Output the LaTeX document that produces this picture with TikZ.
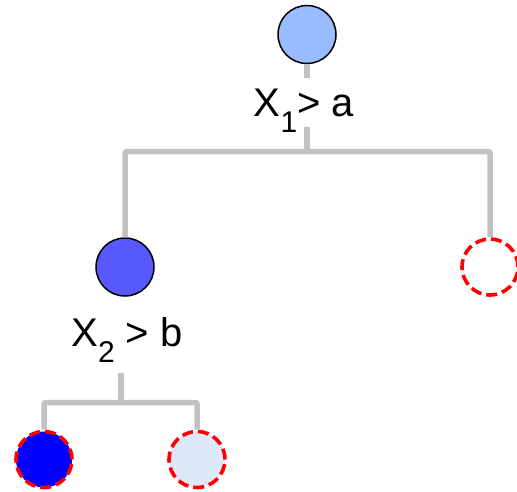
\documentclass[tikz,border=0pt]{standalone}
\usepackage{fontspec}
\setmainfont{Liberation Sans}
\usetikzlibrary{positioning}

\definecolor{rootblue}{HTML}{99BBFF}
\definecolor{midblue}{HTML}{5858FF}
\definecolor{leafblue}{HTML}{0000FF}
\definecolor{paleblue}{HTML}{DDE8FA}
\definecolor{branchgray}{HTML}{C2C2C2}

\newcommand{\sub}[1]{\raisebox{-16pt}{\fontsize{30}{30}\selectfont #1}}

\begin{document}
\begin{tikzpicture}[
    x=1pt, y=-1pt,
    split/.style={circle, draw=black, line width=1.5pt, minimum size=58pt,
                  inner sep=0pt, fill=#1},
    leaf/.style={circle, draw=red, line width=3.6pt, dash pattern=on 11pt off 5pt,
                 minimum size=56pt, inner sep=0pt, fill=#1},
    rule/.style={font=\fontsize{40}{44}\selectfont, inner sep=0pt, anchor=base},
    branch/.style={draw=branchgray, line width=5.5pt, rounded corners=2pt}
  ]
  \useasboundingbox (0,0) rectangle (517,491);

  % Top level
  \node[split=rootblue] (root) at (307, 34.5) {};
  \node[rule, text height=38.7pt, text depth=10.3pt] (rule1) at (304, 116.7)
    {X\sub{1}> a};
  \coordinate (bar1) at (307, 151.5);

  % Middle level
  \node[split=midblue] (mid) at (125, 267) {};
  \node[leaf=white] (right) at (490, 267) {};
  \node[rule, text height=30pt, text depth=27pt] (rule2) at (127, 346)
    {X\sub{2} > b};
  \coordinate (bar2) at (121, 402.5);

  % Bottom level
  \node[leaf=leafblue] (leftleaf) at (44, 459.5) {};
  \node[leaf=paleblue] (rightleaf) at (197, 459.5) {};

  % Branches
  \draw[branch] (root) -- (rule1.north -| root);
  \draw[branch] (rule1.south -| root) -- (bar1);
  \draw[branch] (mid) |- (bar1) -| (right);
  \draw[branch] (rule2.south -| bar2) -- (bar2);
  \draw[branch] (leftleaf) |- (bar2) -| (rightleaf);

\end{tikzpicture}
\end{document}
